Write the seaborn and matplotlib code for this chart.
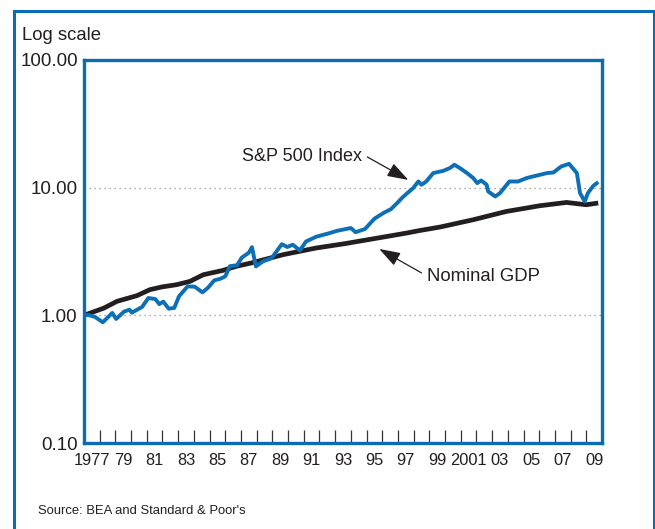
import numpy as np
import pandas as pd
import matplotlib
matplotlib.use("Agg")
import matplotlib.pyplot as plt
from matplotlib.patches import Rectangle
from matplotlib.ticker import FixedLocator, NullLocator
import seaborn as sns

# ---------------- data ----------------
sp_years = [1977.0, 1977.25, 1977.7, 1978.2, 1978.8, 1979.05, 1979.55, 1979.9, 1980.05,
            1980.7, 1981.1, 1981.55, 1981.8, 1982.05, 1982.4, 1982.75, 1983.05, 1983.6,
            1984.05, 1984.55, 1984.9, 1985.3, 1985.7, 1986.0, 1986.3, 1986.75, 1987.05,
            1987.5, 1987.7, 1987.95, 1988.4, 1988.95, 1989.6, 1989.95, 1990.3, 1990.75,
            1991.15, 1991.8, 1992.5, 1993.15, 1994.0, 1994.3, 1994.9, 1995.5, 1996.1,
            1996.55, 1996.95, 1997.3, 1997.6, 1997.97, 1998.3, 1998.5, 1998.8, 1999.25,
            1999.9, 2000.3, 2000.6, 2000.95, 2001.4, 2001.8, 2002.05, 2002.3, 2002.65,
            2002.75, 2003.2, 2003.5, 2004.1, 2004.65, 2005.2, 2005.6, 2006.5, 2006.9,
            2007.4, 2007.9, 2008.4, 2008.6, 2008.9, 2009.1, 2009.45, 2009.76]
sp_values = [1.00, 1.007, 0.972, 0.882, 1.044, 0.937, 1.069, 1.108, 1.050,
             1.163, 1.368, 1.339, 1.224, 1.280, 1.128, 1.143, 1.408, 1.686,
             1.677, 1.513, 1.647, 1.879, 1.937, 2.02, 2.427, 2.47, 2.83,
             3.095, 3.418, 2.417, 2.646, 2.803, 3.607, 3.43, 3.574, 3.226,
             3.794, 4.13, 4.357, 4.60, 4.83, 4.478, 4.744, 5.71, 6.363,
             6.777, 7.58, 8.41, 9.07, 9.93, 11.18, 10.54, 11.18, 13.01,
             13.56, 14.23, 15.11, 14.23, 13.01, 11.89, 10.86, 11.39, 10.54,
             9.34, 8.53, 9.07, 11.18, 11.18, 11.89, 12.24, 13.01, 13.15,
             14.65, 15.38, 13.01, 9.07, 7.80, 9.07, 10.35, 11.06]

gdp_years = [1977.0, 1978.27, 1979.1, 1980.37, 1981.2, 1981.95, 1982.9, 1983.75,
             1984.6, 1985.86, 1986.7, 1987.65, 1989.7, 1991.8, 1993.6, 1995.7,
             1997.55, 1998.4, 1999.7, 2001.8, 2003.9, 2006.04, 2007.74, 2009.0, 2009.76]
gdp_values = [1.00, 1.14, 1.287, 1.426, 1.589, 1.668, 1.738, 1.845,
              2.08, 2.25, 2.42, 2.57, 2.99, 3.37, 3.64, 4.03,
              4.41, 4.62, 4.92, 5.61, 6.51, 7.22, 7.66, 7.35, 7.58]

y_ticks = [0.1, 1, 10, 100]
y_tick_labels = ["0.10", "1.00", "10.00", "100.00"]
x_label_years = list(range(1977, 2010, 2))
x_tick_labels = ["1977", "79", "81", "83", "85", "87", "89", "91", "93", "95",
                 "97", "99", "2001", "03", "05", "07", "09"]
x_boundaries = list(range(1978, 2010))

# ---------------- style ----------------
BLUE = "#0c6cb1"
LINE_BLUE = "#0d70b6"
BLACK = "#231f20"

sns.set_style("white")
plt.rcParams["font.family"] = ["Liberation Sans", "DejaVu Sans"]

fig = plt.figure(figsize=(6.55, 5.29), dpi=100)
ax = fig.add_axes([84 / 655, 1 - 443 / 529, (602 - 84) / 655, (443 - 60) / 529])

gdp_df = pd.DataFrame({"year": gdp_years, "value": gdp_values})
sp_df = pd.DataFrame({"year": sp_years, "value": sp_values})

sns.lineplot(data=gdp_df, x="year", y="value", ax=ax, color=BLACK, lw=3.4,
             solid_joinstyle="round", solid_capstyle="butt", zorder=3)
sns.lineplot(data=sp_df, x="year", y="value", ax=ax, color=LINE_BLUE, lw=2.8,
             solid_joinstyle="round", solid_capstyle="butt", zorder=4)

ax.set_yscale("log")
ax.set_ylim(0.1, 100)
ax.set_xlim(1977, 2010)
ax.set_xlabel("")
ax.set_ylabel("")

# y axis
ax.yaxis.set_major_locator(FixedLocator(y_ticks))
ax.yaxis.set_minor_locator(NullLocator())
ax.set_yticklabels(y_tick_labels)
ax.tick_params(axis="y", which="major", length=0, pad=4.5, labelsize=13.5, colors=BLACK)
ax.yaxis.grid(True, which="major", linestyle=(0, (1, 3)), color="#8a8a8a", lw=0.9)
ax.xaxis.grid(False)

# x axis
ax.xaxis.set_major_locator(FixedLocator([y + 0.5 for y in x_label_years]))
ax.set_xticklabels(x_tick_labels)
ax.xaxis.set_minor_locator(FixedLocator(x_boundaries))
ax.tick_params(axis="x", which="major", length=0, pad=7.5, labelsize=11.8, colors=BLACK)
ax.tick_params(axis="x", which="minor", direction="in", length=9.5, width=0.9,
               color="#333333", bottom=True)

for sp in ax.spines.values():
    sp.set_color(BLUE)
    sp.set_linewidth(2.4)
    sp.set_visible(True)
    sp.set_zorder(5)

# annotations
ax.text(1990.86, 17.6, "S&P 500 Index", ha="center", va="center", fontsize=13, color=BLACK)
ax.annotate("", xy=(1997.66, 11.5), xytext=(1995.05, 17.4),
            arrowprops=dict(arrowstyle="-|>,head_length=0.65,head_width=0.22",
                            mutation_scale=20, lw=0.9, color=BLACK,
                            shrinkA=0, shrinkB=0))
ax.text(1998.85, 2.0, "Nominal GDP", ha="left", va="center", fontsize=13.3, color=BLACK)
ax.annotate("", xy=(1995.81, 3.31), xytext=(1998.5, 2.15),
            arrowprops=dict(arrowstyle="-|>,head_length=0.65,head_width=0.22",
                            mutation_scale=20, lw=0.9, color=BLACK,
                            shrinkA=0, shrinkB=0))

# figure texts
fig.text(22 / 655, 1 - 40 / 529, "Log scale", ha="left", va="baseline",
         fontsize=13.3, color=BLACK)
fig.text(38 / 655, 1 - 514 / 529, "Source: BEA and Standard & Poor's", ha="left",
         va="baseline", fontsize=9.4, color=BLACK)

# outer frame
fig.patches.append(Rectangle((14 / 655, -0.05), (653.5 - 14) / 655, 1 - 11 / 529 + 0.05,
                             transform=fig.transFigure, fill=False, ec=BLUE, lw=2.2))

fig.savefig("out.png", dpi=100)
